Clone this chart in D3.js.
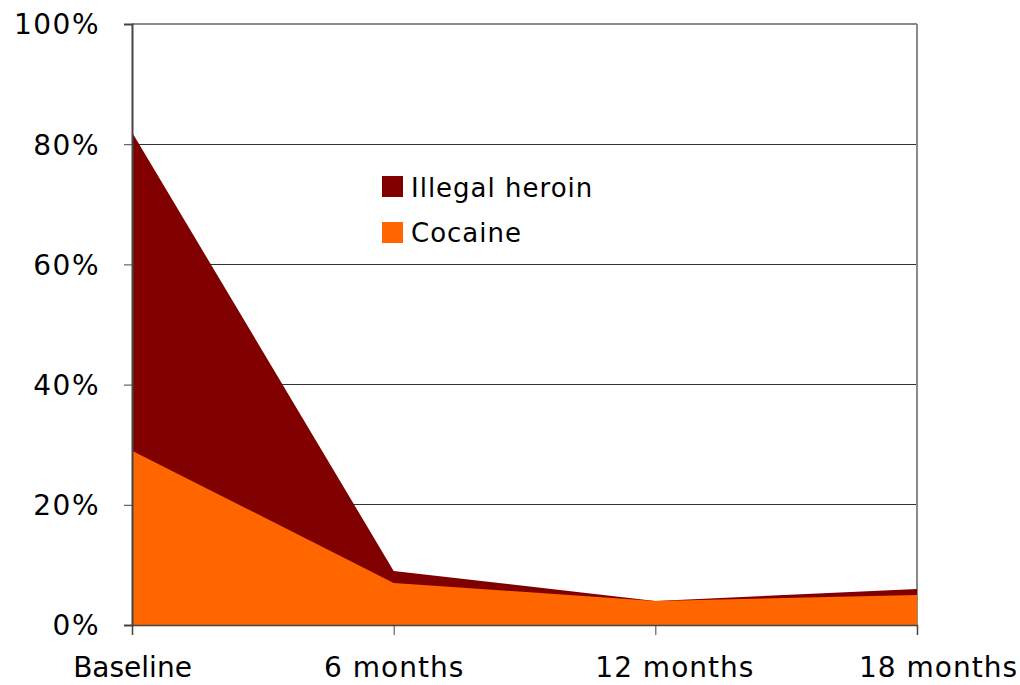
<!DOCTYPE html>
<html>
<head>
<meta charset="utf-8">
<script src="https://cdn.jsdelivr.net/npm/d3@7"></script>
<style>
html,body{margin:0;padding:0;background:#fff;}
svg text{font-family:"DejaVu Sans",Verdana,sans-serif;fill:#000;}
</style>
</head>
<body>
<svg id="chart" width="1020" height="685"></svg>
<script>
const categories = ["Baseline", "6 months", "12 months", "18 months"];
const heroin = [82, 9, 4, 6];
const cocaine = [29, 7, 4, 5];
const yTicks = [0, 20, 40, 60, 80, 100];
const seriesNames = ["Illegal heroin", "Cocaine"];

(function () {
const svg = d3.select("#chart");
const pL = 132, pR = 917, pT = 24, pB = 625;

const x = d3.scalePoint().domain(categories).range([pL, pR]);
const y = d3.scaleLinear().domain([0, 100]).range([pB, pT]);

// gridlines
svg.append("g").selectAll("line").data(yTicks.filter(d => d > 0 && d < 100)).join("line")
  .attr("x1", pL).attr("x2", pR)
  .attr("y1", d => y(d)).attr("y2", d => y(d))
  .attr("stroke", "#333").attr("stroke-width", 1).attr("shape-rendering", "crispEdges");

// top and right border
svg.append("line").attr("x1", pL).attr("x2", pR).attr("y1", y(100)).attr("y2", y(100))
  .attr("stroke", "#8a8a8a").attr("stroke-width", 2).attr("shape-rendering", "crispEdges");
svg.append("line").attr("x1", pR).attr("x2", pR).attr("y1", y(100)).attr("y2", y(0))
  .attr("stroke", "#8a8a8a").attr("stroke-width", 2).attr("shape-rendering", "crispEdges");

const area = vals => d3.area()
  .x((d, i) => x(categories[i]))
  .y0(y(0))
  .y1(d => y(d))(vals);

const colors = ["#800000", "#FF6600"];
svg.append("path").attr("d", area(heroin)).attr("fill", colors[0]);
svg.append("path").attr("d", area(cocaine)).attr("fill", colors[1]);

// y axis
const yAxis = d3.axisLeft(y).tickValues(yTicks).tickFormat(d => d + "%").tickSize(8).tickPadding(24);
const gy = svg.append("g").attr("transform", `translate(${pL},0)`).call(yAxis);
gy.select(".domain").attr("stroke", "#444").attr("stroke-width", 2);
gy.selectAll(".tick line").attr("stroke", "#444");
gy.selectAll(".tick text").attr("font-size", 28).attr("dy", "0.35em")
  .attr("font-family", "DejaVu Sans").attr("letter-spacing", 1.5);

// x axis
const xAxis = d3.axisBottom(x).tickSize(10).tickPadding(22);
const gx = svg.append("g").attr("transform", `translate(0,${pB})`).call(xAxis);
gx.select(".domain").attr("stroke", "#444").attr("stroke-width", 1.5);
gx.selectAll(".tick line").attr("stroke", "#444");
const labelShift = {"12 months": 19, "18 months": 21};
gx.selectAll(".tick text").attr("font-size", 28).attr("font-family", "DejaVu Sans")
  .attr("letter-spacing", d => d === "Baseline" ? 0 : 1)
  .attr("dx", d => labelShift[d] || 0);

// legend
const lg = svg.append("g");
const legendRows = seriesNames.map((n, i) => ({name: n, color: colors[i], i}));
lg.selectAll("rect").data(legendRows).join("rect")
  .attr("x", 382).attr("y", d => 176 + d.i * 46)
  .attr("width", 21).attr("height", 21).attr("fill", d => d.color);
lg.selectAll("text").data(legendRows).join("text")
  .attr("x", 411).attr("y", d => 197 + d.i * 45)
  .attr("font-size", 26).attr("letter-spacing", 1).text(d => d.name);
})();
</script>
</body>
</html>
